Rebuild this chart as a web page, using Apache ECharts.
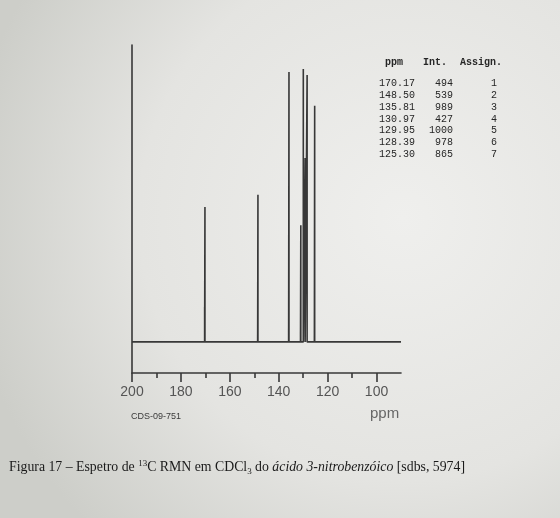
<!DOCTYPE html>
<html><head><meta charset="utf-8">
<script src="https://cdn.jsdelivr.net/npm/echarts@6/dist/echarts.min.js"></script>
<style>html,body{margin:0;padding:0;}#c{width:560px;height:518px;}</style>
</head><body><div id="c"></div>
<script>
// Peak list (from the table in the reference)
const peakPpm = [170.17, 148.50, 135.81, 130.97, 129.95, 128.39, 125.30];
const peakPpmText = ['170.17', '148.50', '135.81', '130.97', '129.95', '128.39', '125.30'];
const peakInt = [494, 539, 989, 427, 1000, 978, 865];
const peakAssign = [1, 2, 3, 4, 5, 6, 7];
// small secondary lines drawn beside the main peaks
const shoulderPpm = [170.30, 148.62, 135.95, 131.10, 129.20, 125.42];
const shoulderInt = [128, 26, 48, 37, 674, 22];
// axis ticks
const xTickMajor = [200, 180, 160, 140, 120, 100];
const xTickMinor = [190, 170, 150, 130, 110];

const spikes = peakPpm.map((p, i) => [p, peakInt[i]])
  .concat(shoulderPpm.map((p, i) => [p, shoulderInt[i]]))
  .sort((a, b) => b[0] - a[0]);
const lineData = [[200, 0]];
spikes.forEach(([p, v]) => { lineData.push([p, 0], [p, v], [p, 0]); });
lineData.push([90, 0]);

const ink = '#383838';
const tableFont = '10px "Liberation Mono"';
const tableInk = '#262626';
const chart = echarts.init(document.getElementById('c'), null, {renderer: 'canvas'});
chart.setOption({
  animation: false,
  backgroundColor: {
    type: 'radial', x: 0.72, y: 0.42, r: 0.85,
    colorStops: [{offset: 0, color: '#efefed'}, {offset: 0.6, color: '#e4e4e1'}, {offset: 1, color: '#cdcec9'}]
  },
  grid: {left: 132, right: 159, top: 45, bottom: 145},
  xAxis: [{
    type: 'value', min: 90, max: 200, inverse: true, position: 'bottom',
    axisLine: {onZero: false, lineStyle: {color: ink, width: 1.6}},
    axisTick: {show: true, customValues: xTickMajor, length: 9, lineStyle: {color: ink, width: 1.6}},
    axisLabel: {customValues: xTickMajor, margin: 12, fontSize: 14, color: '#555', fontFamily: 'Liberation Sans'},
    splitLine: {show: false}
  }, {
    type: 'value', min: 90, max: 200, inverse: true, position: 'bottom',
    axisLine: {show: false, onZero: false},
    axisTick: {show: true, customValues: xTickMinor, length: 5, lineStyle: {color: ink, width: 1.6}},
    axisLabel: {show: false},
    splitLine: {show: false}
  }],
  yAxis: {
    type: 'value', min: -114, max: 1088,
    axisLine: {show: true, onZero: false, lineStyle: {color: ink, width: 1.6}},
    axisTick: {show: false}, axisLabel: {show: false}, splitLine: {show: false}
  },
  series: [{
    type: 'line', xAxisIndex: 0, yAxisIndex: 0, data: lineData,
    showSymbol: false, symbol: 'none',
    lineStyle: {color: ink, width: 1.6}
  }],
  graphic: [
    {type: 'text', left: 385, top: 57, style: {text: 'ppm', font: 'bold 10px "Liberation Mono"', fill: tableInk}},
    {type: 'text', left: 423, top: 57, style: {text: 'Int.', font: 'bold 10px "Liberation Mono"', fill: tableInk}},
    {type: 'text', left: 460, top: 57, style: {text: 'Assign.', font: 'bold 10px "Liberation Mono"', fill: tableInk}},
    {type: 'text', x: 379, y: 78, style: {text: peakPpmText.join('\n'), font: tableFont, lineHeight: 11.7, fill: tableInk, align: 'left'}},
    {type: 'text', x: 453, y: 78, style: {text: peakInt.join('\n'), font: tableFont, lineHeight: 11.7, fill: tableInk, align: 'right'}},
    {type: 'text', x: 497, y: 78, style: {text: peakAssign.join('\n'), font: tableFont, lineHeight: 11.7, fill: tableInk, align: 'right'}},
    {type: 'text', x: 131, y: 412, style: {text: 'CDS-09-751', font: '9px "Liberation Sans"', fill: '#3a3a3a'}},
    {type: 'text', x: 370, y: 406, style: {text: 'ppm', font: '15px "Liberation Sans"', fill: '#666'}},
    {type: 'text', x: 9, y: 459, style: {
      text: '{a|Figura 17 – Espetro de }{sup|13}{a|C RMN em CDCl}{sub|3}{a| do }{i|ácido 3-nitrobenzóico}{a| [sdbs, 5974]}',
      rich: {
        a: {font: '13.8px "Liberation Serif"', fill: '#1a1a1a', lineHeight: 17},
        i: {font: 'italic 13.8px "Liberation Serif"', fill: '#1a1a1a', lineHeight: 17},
        sup: {font: '9px "Liberation Serif"', fill: '#1a1a1a', verticalAlign: 'top', lineHeight: 17},
        sub: {font: '9px "Liberation Serif"', fill: '#1a1a1a', verticalAlign: 'bottom', lineHeight: 17}
      }
    }}
  ]
});
</script>
</body></html>
